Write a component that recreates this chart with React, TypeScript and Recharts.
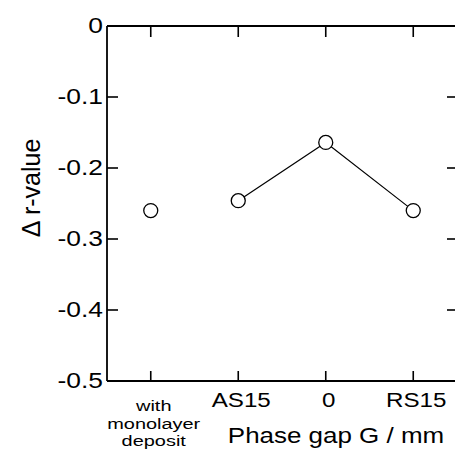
import { ComposedChart, Line, XAxis, YAxis } from "recharts";

const categories = ["with monolayer deposit", "AS15", "0", "RS15"];
const monolayer = [-0.26, null, null, null];
const phaseGap = [null, -0.246, -0.164, -0.26];
const yTicks = [0, -0.1, -0.2, -0.3, -0.4, -0.5];
const xTicks = [0, 1, 2, 3];

const FONT = "'Liberation Sans', Arial, sans-serif";
const INK = "#000";
const TICK_W = 1.6;

// frame of the plot area (the right edge sits just past the window)
const CHART_W = 470;
const CHART_H = 453;
const LEFT = 107;
const TOP = 26;
const RIGHT = 457;
const BOTTOM = 381;

const rows = categories.map((cat, i) => ({
  x: i,
  cat,
  mono: monolayer[i],
  phase: phaseGap[i],
}));

const axisLine = { stroke: INK, strokeWidth: 1.8 };

const at = (p: any, fallback: number) =>
  typeof p?.coordinate === "number" ? p.coordinate : fallback;

// ticks point into the frame on all four sides, so the tick renderers
// draw the lines themselves (left + right, bottom + top)
function YTick({ y, payload }: any) {
  const cy = at(payload, y);
  const v = Number(payload.value);
  const label = v === 0 ? "0" : v.toFixed(1);
  const tx = LEFT - 4;
  return (
    <g>
      <line x1={LEFT} y1={cy} x2={LEFT + 11} y2={cy} stroke={INK} strokeWidth={TICK_W} />
      <line x1={RIGHT - 10} y1={cy} x2={RIGHT} y2={cy} stroke={INK} strokeWidth={TICK_W} />
      <text
        x={tx}
        y={cy + 7}
        textAnchor="end"
        fontSize={22}
        fontFamily={FONT}
        fill={INK}
        transform={`translate(${tx},0) scale(1.2,1) translate(${-tx},0)`}
      >
        {label}
      </text>
    </g>
  );
}

function XTick({ x, payload }: any) {
  const px = at(payload, x);
  const i = Number(payload.value);
  const cx = px + 3;
  const ticks = (
    <>
      <line x1={px} y1={BOTTOM} x2={px} y2={BOTTOM - 10} stroke={INK} strokeWidth={TICK_W} />
      <line x1={px} y1={TOP} x2={px} y2={TOP + 11} stroke={INK} strokeWidth={TICK_W} />
    </>
  );
  if (i === 0) {
    const lines = categories[0].split(" ");
    const tf = `translate(${cx},0) scale(1.33,1) translate(${-cx},0)`;
    return (
      <g>
        {ticks}
        <text textAnchor="middle" fontSize={15} fontFamily={FONT} fill={INK} transform={tf}>
          {lines.map((ln, k) => (
            <tspan key={ln} x={cx} y={BOTTOM + 30.5 + k * 17.5}>
              {ln}
            </tspan>
          ))}
        </text>
      </g>
    );
  }
  const tf = `translate(${cx},0) scale(1.15,1) translate(${-cx},0)`;
  return (
    <g>
      {ticks}
      <text x={cx} y={BOTTOM + 26} textAnchor="middle" fontSize={21} fontFamily={FONT} fill={INK} transform={tf}>
        {categories[i]}
      </text>
    </g>
  );
}

function XLabel() {
  const cx = 336;
  return (
    <text
      x={cx}
      y={443}
      textAnchor="middle"
      fontSize={22}
      fontFamily={FONT}
      fill={INK}
      transform={`translate(${cx},0) scale(1.18,1) translate(${-cx},0)`}
    >
      Phase gap G / mm
    </text>
  );
}

function YLabel() {
  return (
    <text x={40} y={188} textAnchor="middle" fontSize={25} fontFamily={FONT} fill={INK} transform="rotate(-90 40 188)">
      {"Δ r-value"}
    </text>
  );
}

export default function App() {
  return (
    <div
      style={{
        position: "fixed",
        left: 0,
        top: 0,
        width: 455,
        height: 453,
        overflow: "hidden",
        background: "#fff",
      }}
    >
      <ComposedChart
        width={CHART_W}
        height={CHART_H}
        data={rows}
        margin={{ top: TOP - 1, right: CHART_W - RIGHT - 1, bottom: 0, left: 0 }}
      >
        <XAxis
          xAxisId="bottom"
          dataKey="x"
          type="number"
          domain={[-0.5, 3.5]}
          ticks={xTicks}
          orientation="bottom"
          height={CHART_H - BOTTOM}
          axisLine={axisLine}
          tickLine={false}
          tick={<XTick />}
          interval={0}
          label={<XLabel />}
        />
        <XAxis
          xAxisId="top"
          dataKey="x"
          type="number"
          domain={[-0.5, 3.5]}
          orientation="top"
          height={1}
          axisLine={axisLine}
          tickLine={false}
          tick={false}
        />
        <YAxis
          yAxisId="left"
          type="number"
          domain={[-0.5, 0]}
          ticks={yTicks}
          orientation="left"
          width={LEFT}
          axisLine={axisLine}
          tickLine={false}
          tick={<YTick />}
          interval={0}
          label={<YLabel />}
        />
        <YAxis
          yAxisId="right"
          type="number"
          domain={[-0.5, 0]}
          orientation="right"
          width={1}
          axisLine={axisLine}
          tickLine={false}
          tick={false}
        />
        <Line
          xAxisId="bottom"
          yAxisId="left"
          dataKey="phase"
          stroke={INK}
          strokeWidth={1.2}
          connectNulls={false}
          dot={{ r: 7, fill: "#fff", stroke: INK, strokeWidth: 1.3 }}
          isAnimationActive={false}
        />
        <Line
          xAxisId="bottom"
          yAxisId="left"
          dataKey="mono"
          stroke="none"
          dot={{ r: 7, fill: "#fff", stroke: INK, strokeWidth: 1.3 }}
          isAnimationActive={false}
        />
      </ComposedChart>
    </div>
  );
}
